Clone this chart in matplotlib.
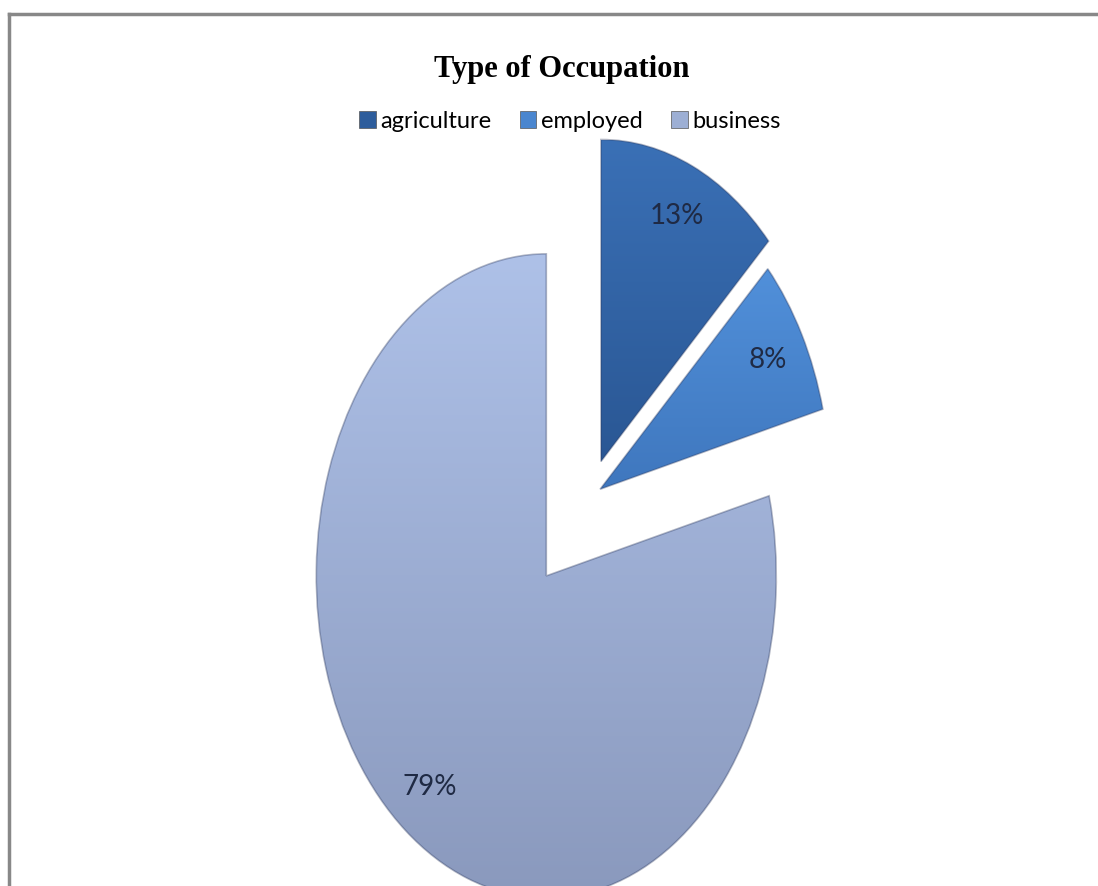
import numpy as np
import matplotlib
matplotlib.use("Agg")
import matplotlib.pyplot as plt
from matplotlib.patches import Rectangle
from matplotlib.colors import LinearSegmentedColormap
from matplotlib.lines import Line2D

# Occupation shares (percent)
categories = ["agriculture", "employed", "business"]
shares = [13, 8, 79]
explode = [0.12, 0.05, 0.31]
# top / bottom shades of each slice
top_colors = ["#3A70B6", "#5190DA", "#AEC1E8"]
bottom_colors = ["#2A5794", "#3F77BE", "#8A99BD"]
legend_colors = ["#2E5D9C", "#4A86CF", "#9DAFD4"]

W, H, DPI = 1098, 886, 100
fig = plt.figure(figsize=(W / DPI, H / DPI), dpi=DPI)
fig.patch.set_facecolor("white")

# frame of the chart area (top and left edges visible)
fig.add_artist(Line2D([9 / W, 9 / W], [0, 1 - 14 / H], transform=fig.transFigure,
                      color="#888888", lw=2.5))
fig.add_artist(Line2D([9 / W, 1], [1 - 14 / H, 1 - 14 / H], transform=fig.transFigure,
                      color="#888888", lw=2.5))

ax = fig.add_axes([0, 0, 1, 1])
cx_px, cy_px, rx_px, ry_px = 590, 497, 230, 322

wedges, texts, autotexts = ax.pie(
    shares, explode=explode, startangle=90, counterclock=False,
    autopct=lambda p: f"{p:.0f}%", pctdistance=0.83,
    wedgeprops=dict(linewidth=0),
    textprops=dict(fontsize=20, color="#1F2A44", family="Lato"),
)
ax.set_aspect("auto")
ax.set_xlim(-cx_px / rx_px, (W - cx_px) / rx_px)
ax.set_ylim(-(H - cy_px) / ry_px, cy_px / ry_px)
ax.axis("off")

# gradient fills clipped to each wedge
xl, yl = ax.get_xlim(), ax.get_ylim()
grad = np.linspace(1, 0, 256).reshape(-1, 1)
for w, ct, cb in zip(wedges, top_colors, bottom_colors):
    w.set_facecolor("none")
    x0, y0, x1, y1 = w.get_path().get_extents(w.get_patch_transform()).extents
    cmap = LinearSegmentedColormap.from_list("g", [cb, ct])
    im = ax.imshow(grad, cmap=cmap, extent=[x0, x1, y0, y1], aspect="auto",
                   origin="upper", zorder=1)
    im.set_clip_path(w)
    # soft darker outline for a bevelled look
    w.set_edgecolor((0.15, 0.2, 0.35, 0.35))
    w.set_linewidth(1.2)
    w.set_zorder(2)
ax.set_xlim(xl)
ax.set_ylim(yl)
for t in autotexts:
    t.set_zorder(3)

fig.text(562 / W, 1 - 69 / H, "Type of Occupation", ha="center", va="center",
         fontsize=22, fontweight="bold", family="Liberation Serif", color="black")

handles = [Rectangle((0, 0), 1, 1, facecolor=c, edgecolor="#555555", lw=0.5)
           for c in legend_colors]
fig.legend(handles, categories, loc="center", bbox_to_anchor=(570 / W, 1 - 121 / H),
           ncol=3, frameon=False, handlelength=0.7, handleheight=0.7,
           handletextpad=0.2, columnspacing=1.2,
           prop=dict(family="Lato", size=17))

fig.savefig("out.png", dpi=DPI, facecolor="white")
